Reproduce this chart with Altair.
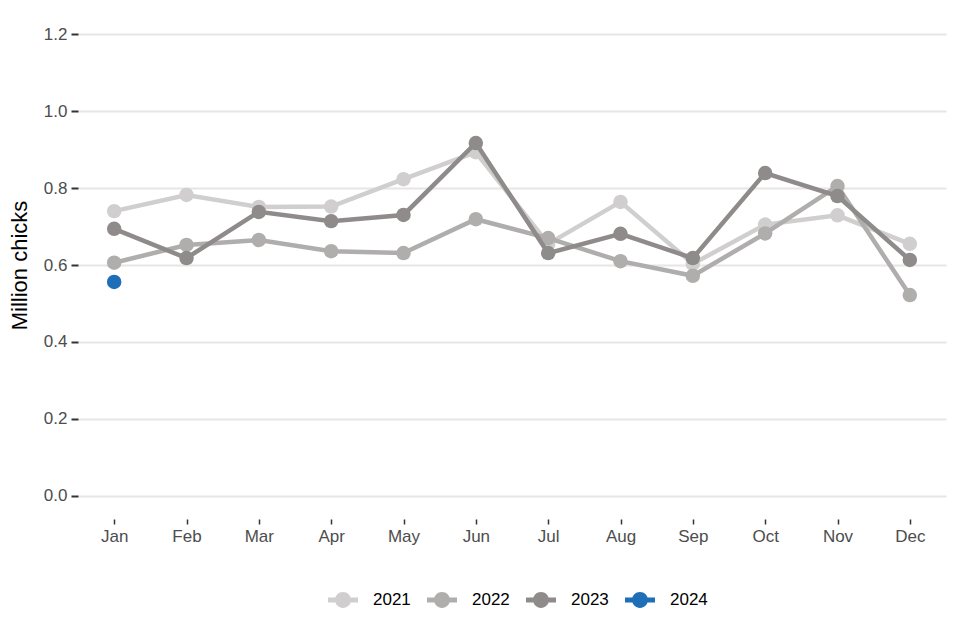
import altair as alt
import pandas as pd

months = ["Jan", "Feb", "Mar", "Apr", "May", "Jun", "Jul", "Aug", "Sep", "Oct", "Nov", "Dec"]
years = ["2021", "2022", "2023", "2024"]
v2021 = [0.740, 0.782, 0.751, 0.752, 0.823, 0.893, 0.655, 0.764, 0.603, 0.705, 0.729, 0.655]
v2022 = [0.606, 0.652, 0.665, 0.636, 0.631, 0.719, 0.670, 0.610, 0.572, 0.682, 0.805, 0.522]
v2023 = [0.694, 0.618, 0.738, 0.714, 0.730, 0.917, 0.631, 0.681, 0.618, 0.839, 0.779, 0.613]
v2024 = [0.556]
colors = ["#d0cece", "#b0adad", "#8f8b8b", "#1f6fb8"]

rows = []
for y, vals in zip(years, [v2021, v2022, v2023, v2024]):
    for m, v in zip(months, vals):
        rows.append({"month": m, "year": y, "series": y, "value": v})
df = pd.DataFrame(rows)

legend_path = ("M-1,-0.17 H1 V0.17 H-1 Z "
               "M-0.53,0 A0.53,0.53 0 1,1 0.53,0 A0.53,0.53 0 1,1 -0.53,0 Z")

x_enc = alt.X("month:N", sort=months, title=None,
              scale=alt.Scale(type="point", padding=0.5),
              axis=alt.Axis(labelAngle=0, labelFont="Liberation Sans", labelFontSize=17,
                            labelColor="#4d4d4d", ticks=True, tickSize=5, tickColor="#333333",
                            tickWidth=1.5, domain=False, grid=False, labelPadding=4))
y_enc = alt.Y("value:Q", title="Million chicks",
              scale=alt.Scale(domain=[-0.06, 1.26], nice=False, zero=False),
              axis=alt.Axis(values=[0, 0.2, 0.4, 0.6, 0.8, 1.0, 1.2], format=".1f",
                            labelFont="Liberation Sans", labelFontSize=17, labelColor="#4d4d4d",
                            tickSize=7, tickColor="#333333", tickWidth=2, domain=False,
                            grid=True, gridColor="#e6e6e6", gridWidth=2, labelPadding=4,
                            titleFont="Liberation Sans", titleFontSize=22, titleFontWeight="normal",
                            titleColor="#000000", titlePadding=12))
color_scale = alt.Scale(domain=years, range=colors)
stroke_scale = alt.Scale(range=colors)
color_legend = alt.Legend(title=None, orient="none", direction="horizontal",
                          legendX=250, legendY=574,
                          symbolType=legend_path, symbolSize=900,
                          symbolStrokeWidth=0, symbolOpacity=1,
                          labelFont="Liberation Sans", labelFontSize=17,
                          labelColor="#000000", labelOffset=15,
                          columnPadding=16)

layers = []
for y in years:
    sub = df[df["year"] == y]
    base = alt.Chart(sub)
    layers.append(base.mark_line(strokeWidth=4.5).encode(
        x=x_enc, y=y_enc,
        stroke=alt.Stroke("series:N", scale=stroke_scale, legend=None)))
    layers.append(base.mark_point(filled=True, size=210, opacity=1).encode(
        x=x_enc, y=y_enc,
        color=alt.Color("year:N", scale=color_scale, legend=color_legend)))

chart = alt.layer(*layers).properties(
    width=868, height=508,
    background="#ffffff",
    autosize=alt.AutoSizeParams(type="none"),
    padding={"left": 70, "top": 3, "right": 6, "bottom": 110},
).configure_view(strokeWidth=0)

chart.save("out.html", embed_options={"renderer": "svg", "actions": False})
